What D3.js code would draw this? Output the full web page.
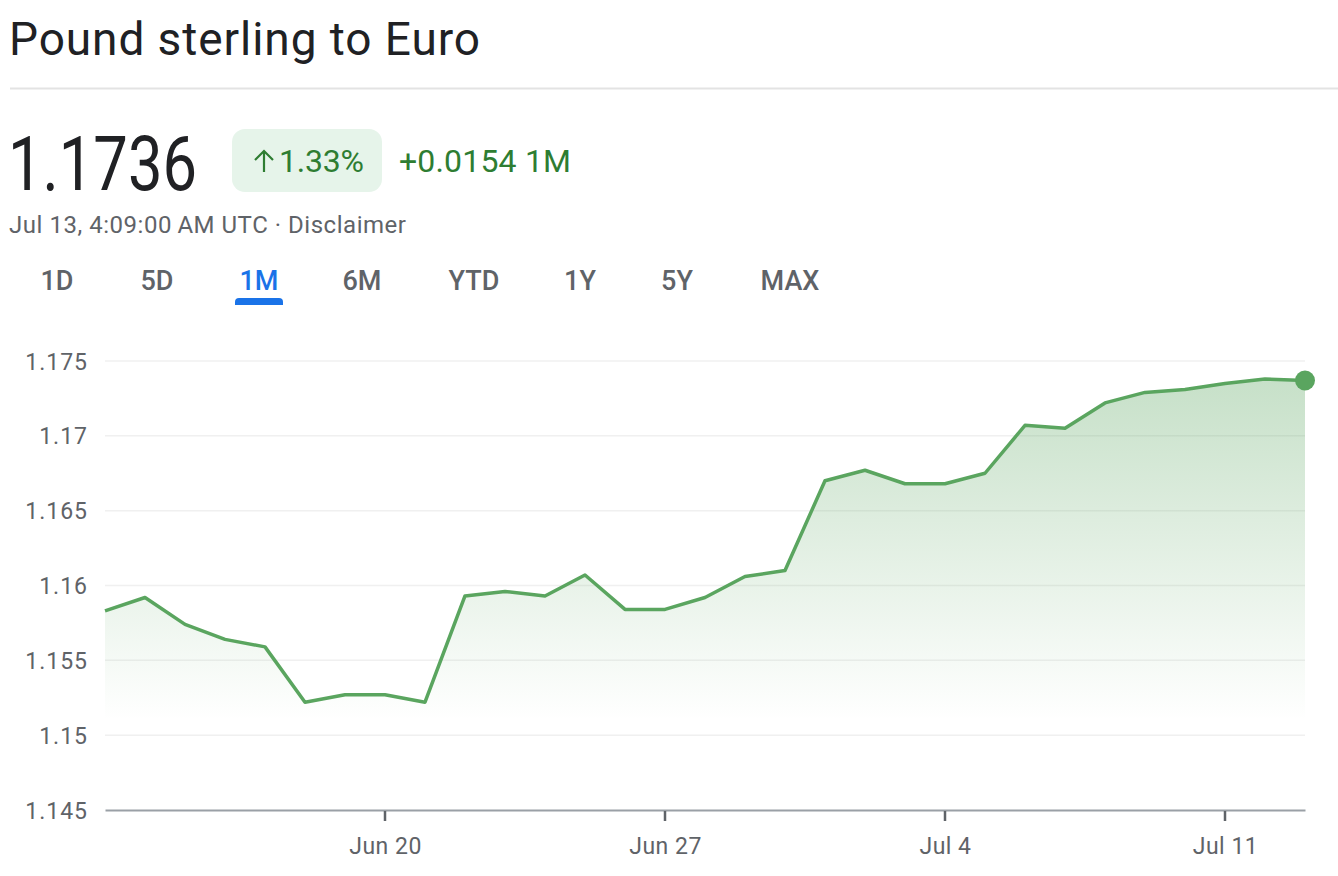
<!DOCTYPE html>
<html>
<head>
	<meta charset="utf-8" />
	<title>Pound sterling to Euro</title>
	<script src="https://d3js.org/d3.v7.min.js"></script>
	<style type="text/css">
		body {
			margin: 0;
			background: #fff;
			font-family: Roboto, "Noto Sans", sans-serif;
		}
	</style>
</head>
<body>
	<script>
		// one point per day, Jun 13 .. Jul 13
		const dates = d3.timeDays(new Date(2025, 5, 13), new Date(2025, 6, 14));
		const rates = [
			1.1583, 1.1592, 1.1574, 1.1564, 1.1559, 1.1522, 1.1527, 1.1527,
			1.1522, 1.1593, 1.1596, 1.1593, 1.1607, 1.1584, 1.1584, 1.1592,
			1.1606, 1.1610, 1.1670, 1.1677, 1.1668, 1.1668, 1.1675, 1.1707,
			1.1705, 1.1722, 1.1729, 1.1731, 1.1735, 1.1738, 1.1737
		];
		const yTicks = [1.145, 1.15, 1.155, 1.16, 1.165, 1.17, 1.175];
		const xTicks = [new Date(2025, 5, 20), new Date(2025, 5, 27), new Date(2025, 6, 4), new Date(2025, 6, 11)];
		const tabs = ["1D", "5D", "1M", "6M", "YTD", "1Y", "5Y", "MAX"];
		const tabX = [57, 157, 259, 362, 474, 580, 677, 790];
		const activeTab = "1M";

		const data = dates.map((d, i) => ({date: d, value: rates[i]}));

		const width = 1338;
		const height = 876;
		const green = "#5aa55f";
		const darkGreen = "#2e7d32";

		const svg = d3.select("body")
			.append("svg")
			.attr("width", width)
			.attr("height", height);

		// header
		svg.append("text")
			.attr("x", 9).attr("y", 55)
			.attr("font-size", 46)
			.attr("textLength", 471)
			.attr("fill", "#202124")
			.text("Pound sterling to Euro");

		svg.append("line")
			.attr("x1", 10).attr("x2", width)
			.attr("y1", 88.5).attr("y2", 88.5)
			.attr("stroke", "#e3e3e3")
			.attr("stroke-width", 2);

		svg.append("text")
			.attr("x", 8).attr("y", 190)
			.attr("font-size", 76)
			.attr("textLength", 189)
			.attr("lengthAdjust", "spacingAndGlyphs")
			.attr("fill", "#202124")
			.text("1.1736");

		svg.append("rect")
			.attr("x", 232).attr("y", 129)
			.attr("width", 150).attr("height", 63)
			.attr("rx", 13)
			.attr("fill", "#e6f4ea");

		// up arrow
		svg.append("path")
			.attr("d", "M264,172 V151 M255,160 L264,151 L273,160")
			.attr("fill", "none")
			.attr("stroke", darkGreen)
			.attr("stroke-width", 2.2);

		svg.append("text")
			.attr("x", 279).attr("y", 172)
			.attr("font-size", 32)
			.attr("textLength", 85)
			.attr("fill", darkGreen)
			.text("1.33%");

		svg.append("text")
			.attr("x", 399).attr("y", 172)
			.attr("font-size", 32)
			.attr("textLength", 172)
			.attr("fill", darkGreen)
			.text("+0.0154 1M");

		svg.append("text")
			.attr("x", 9).attr("y", 233)
			.attr("font-size", 24)
			.attr("textLength", 397)
			.attr("fill", "#5f6368")
			.text("Jul 13, 4:09:00\u2009AM UTC \u00b7 Disclaimer");

		svg.selectAll(".tab")
			.data(tabs)
			.enter()
			.append("text")
			.attr("class", "tab")
			.attr("x", (d, i) => tabX[i])
			.attr("y", 290)
			.attr("text-anchor", "middle")
			.attr("font-size", 27)
			.attr("font-weight", 500)
			.attr("fill", d => d === activeTab ? "#1a73e8" : "#5f6368")
			.text(d => d);

		const ai = tabs.indexOf(activeTab);
		svg.append("path")
			.attr("d", `M${tabX[ai] - 24},305 v-3 a4,4 0 0 1 4,-4 h40 a4,4 0 0 1 4,4 v3 z`)
			.attr("fill", "#1a73e8");

		// chart
		const x = d3.scaleTime()
			.domain(d3.extent(dates))
			.range([105, 1305]);

		const y = d3.scaleLinear()
			.domain([1.145, 1.175])
			.range([810, 361]);

		const grid = svg.append("g");
		grid.selectAll("line")
			.data(yTicks.slice(1))
			.enter()
			.append("line")
			.attr("x1", 105).attr("x2", 1305)
			.attr("y1", d => y(d)).attr("y2", d => y(d))
			.attr("stroke", "#f0f0f0")
			.attr("stroke-width", 1.5);

		const yAxis = svg.append("g")
			.attr("transform", "translate(88,0)")
			.call(d3.axisLeft(y).tickValues(yTicks).tickSize(0).tickPadding(0).tickFormat(d3.format("")));
		yAxis.select(".domain").remove();
		yAxis.selectAll("text")
			.attr("font-family", "Roboto, sans-serif")
			.attr("font-size", 23)
			.attr("letter-spacing", 1)
			.attr("fill", "#5f6368")
			.attr("dy", "0.35em");

		const defs = svg.append("defs");
		const grad = defs.append("linearGradient")
			.attr("id", "fillGrad")
			.attr("gradientUnits", "userSpaceOnUse")
			.attr("x1", 0).attr("x2", 0)
			.attr("y1", y(1.175)).attr("y2", y(1.151));
		grad.append("stop").attr("offset", "0%").attr("stop-color", green).attr("stop-opacity", 0.36);
		grad.append("stop").attr("offset", "100%").attr("stop-color", green).attr("stop-opacity", 0);

		const area = d3.area()
			.x(d => x(d.date))
			.y0(y(1.145))
			.y1(d => y(d.value));

		svg.append("path")
			.datum(data)
			.attr("d", area)
			.attr("fill", "url(#fillGrad)");

		const xAxis = svg.append("g")
			.attr("transform", `translate(0,${y(1.145)})`)
			.call(d3.axisBottom(x).tickValues(xTicks).tickSize(0).tickPadding(28).tickFormat(d3.timeFormat("%b %-d")));
		xAxis.select(".domain")
			.attr("stroke", "#9aa0a6")
			.attr("stroke-width", 2);
		xAxis.selectAll("text")
			.attr("font-family", "Roboto, sans-serif")
			.attr("font-size", 23)
			.attr("letter-spacing", 0.5)
			.attr("fill", "#5f6368");

		svg.append("g")
			.selectAll("line")
			.data(xTicks)
			.enter()
			.append("line")
			.attr("x1", d => x(d)).attr("x2", d => x(d))
			.attr("y1", y(1.145) + 1).attr("y2", y(1.145) + 11)
			.attr("stroke", "#5f6368")
			.attr("stroke-width", 2.5);

		const line = d3.line()
			.x(d => x(d.date))
			.y(d => y(d.value));

		svg.append("path")
			.datum(data)
			.attr("d", line)
			.attr("fill", "none")
			.attr("stroke", green)
			.attr("stroke-width", 3.5)
			.attr("stroke-linejoin", "round");

		const last = data[data.length - 1];
		svg.append("circle")
			.attr("cx", x(last.date))
			.attr("cy", y(last.value))
			.attr("r", 10)
			.attr("fill", green);
	</script>
</body>
</html>
